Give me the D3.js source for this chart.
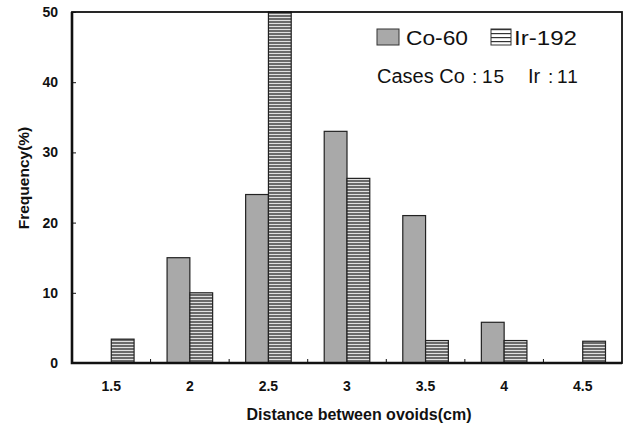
<!DOCTYPE html>
<html>
<head>
<meta charset="utf-8">
<script src="https://cdn.jsdelivr.net/npm/d3@7"></script>
<style>
  body { margin: 0; background: #fff; }
  svg { display: block; }
  text { font-family: Arial, "Liberation Sans", sans-serif; fill: #111; }
</style>
</head>
<body>
<div id="chart"></div>
<script>
const WIDTH = 628, HEIGHT = 427;
const LEFT = 72, RIGHT = 622, TOP = 12, BOTTOM = 363;

// data
const distances = ["1.5", "2", "2.5", "3", "3.5", "4", "4.5"];
const sources = ["Co-60", "Ir-192"];
const coValues = [0, 15, 24, 33, 21, 5.8, 0];
const irValues = [3.4, 10, 50, 26.3, 3.2, 3.2, 3.1];
const yTicks = [0, 10, 20, 30, 40, 50];

const rows = distances.map((d, i) => ({ dist: d, vals: [
    { key: sources[0], v: coValues[i] },
    { key: sources[1], v: irValues[i] }
]}));

const svg = d3.select("#chart").append("svg")
    .attr("width", WIDTH)
    .attr("height", HEIGHT);

const defs = svg.append("defs");
const pat = defs.append("pattern")
    .attr("id", "stripes")
    .attr("patternUnits", "userSpaceOnUse")
    .attr("width", 6).attr("height", 3);
pat.append("rect").attr("width", 6).attr("height", 3).attr("fill", "#6a6a6a");
pat.append("rect").attr("y", 2).attr("width", 6).attr("height", 1).attr("fill", "#e0e0e0");

const legendPat = defs.append("pattern")
    .attr("id", "stripes-legend")
    .attr("patternUnits", "userSpaceOnUse")
    .attr("width", 6).attr("height", 4);
legendPat.append("rect").attr("width", 6).attr("height", 4).attr("fill", "#fff");
legendPat.append("rect").attr("y", 1).attr("width", 6).attr("height", 1.2).attr("fill", "#333");

const fillFor = k => k === sources[0] ? "#a9a9a9" : "url(#stripes)";

const x0 = d3.scaleBand().domain(distances).range([LEFT, RIGHT]).padding(0);
const x1 = d3.scaleBand().domain(sources)
    .range([x0.bandwidth() * 0.21, x0.bandwidth() * 0.79]).padding(0);
const y = d3.scaleLinear().domain([0, 50]).range([BOTTOM, TOP]);

// bars
const groups = svg.append("g").selectAll("g")
    .data(rows)
    .join("g")
    .attr("transform", d => `translate(${x0(d.dist)},0)`);

groups.selectAll("rect")
    .data(d => d.vals.filter(e => e.v > 0))
    .join("rect")
    .attr("x", d => x1(d.key))
    .attr("y", d => y(d.v))
    .attr("width", x1.bandwidth())
    .attr("height", d => y(0) - y(d.v))
    .attr("fill", d => fillFor(d.key))
    .attr("stroke", "#222")
    .attr("stroke-width", 1.2);

// frame: left and bottom heavier like the scan
svg.append("rect")
    .attr("x", LEFT).attr("y", TOP)
    .attr("width", RIGHT - LEFT).attr("height", BOTTOM - TOP)
    .attr("fill", "none")
    .attr("stroke", "#111")
    .attr("stroke-width", 1.8);
svg.append("path")
    .attr("d", `M${LEFT},${TOP}V${BOTTOM}H${RIGHT}`)
    .attr("fill", "none")
    .attr("stroke", "#111")
    .attr("stroke-width", 2.6);

// y axis, ticks pointing inward
const yAxis = svg.append("g")
    .attr("transform", `translate(${LEFT},0)`)
    .call(d3.axisRight(y).tickValues(yTicks).tickSize(4).tickFormat(""));
yAxis.select(".domain").remove();
yAxis.selectAll("line").attr("stroke", "#111");

svg.append("g").selectAll("text")
    .data(yTicks)
    .join("text")
    .attr("x", 58)
    .attr("y", d => y(d) + 5)
    .attr("text-anchor", "end")
    .attr("font-size", 14)
    .attr("font-weight", "bold")
    .text(d => d);

// x axis: labels at band centres, small ticks at band edges
const xAxis = svg.append("g")
    .attr("transform", `translate(0,${BOTTOM})`)
    .call(d3.axisBottom(x0).tickSize(0).tickPadding(18));
xAxis.select(".domain").remove();
xAxis.selectAll("text")
    .attr("font-size", 14)
    .attr("font-weight", "bold")
    .attr("font-family", "Arial, 'Liberation Sans', sans-serif")
    .attr("fill", "#111");

svg.append("g").selectAll("line")
    .data(distances.slice(1))
    .join("line")
    .attr("x1", d => x0(d)).attr("x2", d => x0(d))
    .attr("y1", BOTTOM).attr("y2", BOTTOM - 4)
    .attr("stroke", "#111");

// axis titles
svg.append("text")
    .attr("x", 359).attr("y", 420)
    .attr("text-anchor", "middle")
    .attr("font-size", 16)
    .attr("font-weight", "bold")
    .text("Distance between ovoids(cm)");

svg.append("text")
    .attr("transform", "translate(29,178) rotate(-90)")
    .attr("text-anchor", "middle")
    .attr("font-size", 15.5)
    .attr("font-weight", "bold")
    .text("Frequency(%)");

// legend
const legend = svg.append("g");
legend.append("rect")
    .attr("x", 377).attr("y", 29).attr("width", 22).attr("height", 16)
    .attr("fill", "#a9a9a9").attr("stroke", "#333");
legend.append("text")
    .attr("x", 406).attr("y", 45)
    .attr("font-size", 21)
    .attr("textLength", 62)
    .attr("lengthAdjust", "spacingAndGlyphs")
    .text(sources[0]);
legend.append("rect")
    .attr("x", 491).attr("y", 29).attr("width", 20).attr("height", 16)
    .attr("fill", "url(#stripes-legend)").attr("stroke", "#333");
legend.append("text")
    .attr("x", 514).attr("y", 45)
    .attr("font-size", 21)
    .attr("textLength", 63)
    .attr("lengthAdjust", "spacingAndGlyphs")
    .text(sources[1]);

const cases = legend.append("text")
    .attr("y", 83)
    .attr("font-size", 20);
cases.append("tspan").attr("x", 377).text("Cases Co");
cases.append("tspan").attr("x", 472).attr("font-size", 19).text(":");
cases.append("tspan").attr("x", 482).attr("font-size", 19).attr("letter-spacing", 1).text("15");
cases.append("tspan").attr("x", 528).text("Ir");
cases.append("tspan").attr("x", 548).attr("font-size", 19).text(":");
cases.append("tspan").attr("x", 557).attr("font-size", 19).attr("letter-spacing", 1).text("11");
</script>
</body>
</html>
